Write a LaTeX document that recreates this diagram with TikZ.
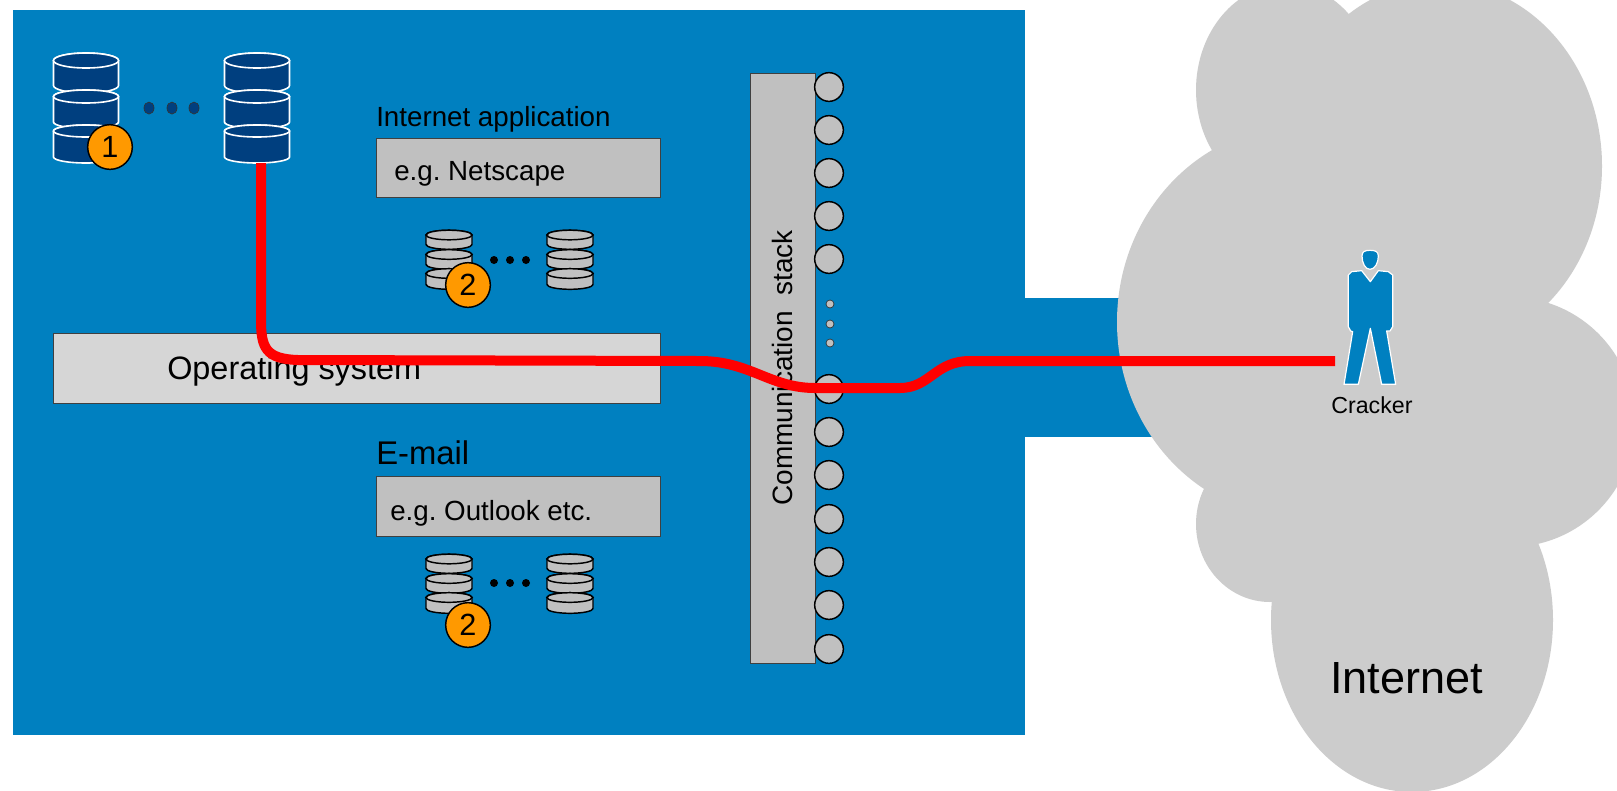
\documentclass[tikz,border=0pt]{standalone}
\usepackage{fontspec}
\setmainfont{Liberation Sans}
\frenchspacing
\definecolor{bluebg}{RGB}{0,128,192}
\definecolor{navy}{RGB}{0,63,127}
\definecolor{boxgray}{RGB}{192,192,192}
\definecolor{osgray}{RGB}{214,214,214}
\definecolor{cloudgray}{RGB}{204,204,204}
\definecolor{badgeorange}{RGB}{255,153,0}
\newcommand{\dbdisc}[5]{% cx, cy top ellipse, rx, ry, height
  \path[dbstyle] (#1-#3,#2) -- (#1-#3,#2+#5) arc[start angle=180,end angle=360,x radius=#3,y radius=-#4] -- (#1+#3,#2) arc[start angle=0,end angle=180,x radius=#3,y radius=-#4] -- cycle;
  \path[dbstyle] (#1,#2) ellipse[x radius=#3,y radius=#4];
}
\newcommand{\bigstack}[1]{%
  \begin{scope}[dbstyle/.style={draw=white,fill=navy,line width=1.2pt}]
  \dbdisc{#1}{60.5}{32.5}{7.5}{25}
  \dbdisc{#1}{96.5}{32.5}{6.5}{25.5}
  \dbdisc{#1}{131}{32.5}{6}{26}
  \end{scope}}
\newcommand{\smallstack}[2]{%
  \begin{scope}[dbstyle/.style={draw=black,fill=boxgray,line width=1.1pt}]
  \dbdisc{#1}{#2+5}{23}{4.8}{9.5}
  \dbdisc{#1}{#2+24.5}{23}{4.8}{10}
  \dbdisc{#1}{#2+43.5}{23}{4.8}{11}
  \end{scope}}
\tikzset{
  x=0.75pt,y=-0.75pt,
  graybox/.style={draw=black!75,line width=0.7pt,fill=boxgray},
  portc/.style={circle,draw=black,fill=boxgray,line width=1.1pt,minimum size=21.5pt,inner sep=0pt},
  tinyport/.style={circle,draw=black!80,fill=boxgray,line width=0.5pt,minimum size=6pt,inner sep=0pt},
  badge/.style={circle,draw=black,fill=badgeorange,line width=1.1pt,minimum size=33.5pt,inner sep=0pt,font=\fontsize{23}{23}\selectfont},
  lab/.style={anchor=base west,inner sep=0pt,font=\fontsize{20.8}{24}\selectfont},
  navydot/.style={fill=navy,draw=black!80,line width=0.5pt},
  blackdot/.style={fill=black},
  redline/.style={draw=red,line width=7.5pt,line join=round},
}
\begin{document}
\begin{tikzpicture}
\useasboundingbox (0,0) rectangle (1617,790);
\clip (0,0) rectangle (1617,790);
\fill[white] (0,0) rectangle (1617,790);
\fill[bluebg] (13,10) rectangle (1025,735);
\fill[bluebg] (1025,298) rectangle (1160,437);
% cloud: union of lobes
\begin{scope}[cloudgray]
\fill (1440,166) ellipse[x radius=162,y radius=184];
\fill (1510,422) ellipse[x radius=125,y radius=125];
\fill (1412,620) ellipse[x radius=141,y radius=172];
\fill (1270,524) ellipse[x radius=74,y radius=78];
\fill (1300,322) ellipse[x radius=183,y radius=196];
\fill (1286,90) ellipse[x radius=90,y radius=106];
\fill (1354,24) -- (1545,295) -- (1535,540) -- (1275,598) -- (1206,485) -- (1214,151) -- cycle;
\end{scope}
% database stacks
\bigstack{86}
\bigstack{257}
\smallstack{449}{230}
\smallstack{570}{230}
\smallstack{449}{554}
\smallstack{570}{554}
\foreach \px in {149,172,194}{\path[navydot] (\px,108) ellipse[x radius=5,y radius=6];}
\foreach \px in {494,510,526}{
  \path[blackdot] (\px,260) circle[radius=4];
  \path[blackdot] (\px,583) circle[radius=4];}
% boxes
\node[lab,font=\fontsize{20.8}{24}\selectfont] (tinet) at (376,126) {Internet application};
\path[graybox] (376,138) rectangle (660,197);
\node[lab] (tnet) at (394,180) {e.g. Netscape};
\path[draw=black!75,line width=0.7pt,fill=osgray] (53,333) rectangle (660,403);
\node[lab,font=\fontsize{24.3}{28}\selectfont] (tos) at (167,379) {Operating system};
\node[lab,font=\fontsize{24.6}{28}\selectfont] (tmail) at (376,464) {E-mail};
\path[graybox] (376,476) rectangle (660,536);
\node[lab] (tout) at (390,520) {e.g. Outlook etc.};
% communication stack
\path[graybox] (750,73) rectangle (815,663);
\node[lab,rotate=90,font=\fontsize{21}{24}\selectfont] (tcomm) at (792,506) {Communication\ \ stack};
\foreach \py [count=\i] in {87,130,173,216,259,389,432,475,519,562,605,649}{\node[portc] (p\i) at (829,\py) {};}
\foreach \py [count=\i] in {304,324,343}{\node[tinyport] (d\i) at (830,\py) {};}
% badges
\node[badge] (b1) at (110,147) {1};
\node[badge] (b2) at (468,285) {2};
\node[badge] (b3) at (468,625) {2};
% cracker
\begin{scope}[shift={(1280,230)},x=0.25pt,y=-0.25pt]
\path[fill=bluebg,draw=white,line width=0.9pt,line join=round]
  (246,78) .. controls (246,64) and (255,61) .. (270,61) .. controls (285,61) and (295,64) .. (295,78)
  .. controls (295,98) and (285,118) .. (270,118) .. controls (255,118) and (246,98) .. (246,78) -- cycle;
\path[fill=bluebg,draw=white,line width=0.9pt,line join=round]
  (205,135) -- (215,125) -- (245,122) -- (271,155) -- (295,122) -- (325,125) -- (338,135) -- (338,290) -- (330,303) -- (320,303) -- (347,463) -- (305,463) -- (271,295) -- (235,463) -- (192,463) -- (218,305) -- (212,303) -- (205,290) -- cycle;
\end{scope}
\coordinate (crackerhand) at (1335,361);
\coordinate (dbbottom) at (261,163);
\node[lab,font=\fontsize{17.4}{20}\selectfont] (tcrack) at (1331,413) {Cracker};
\node[lab,font=\fontsize{33.8}{38}\selectfont] (tinternet) at (1330,693) {Internet};
% red path
\draw[redline] (dbbottom) -- (261,320) .. controls (261,348) and (266,359) .. (298,360) -- (700,361) .. controls (750,361) and (770,388) .. (815,388) -- (900,388) .. controls (930,388) and (935,361) .. (970,361) -- (crackerhand);
\end{tikzpicture}
\end{document}
